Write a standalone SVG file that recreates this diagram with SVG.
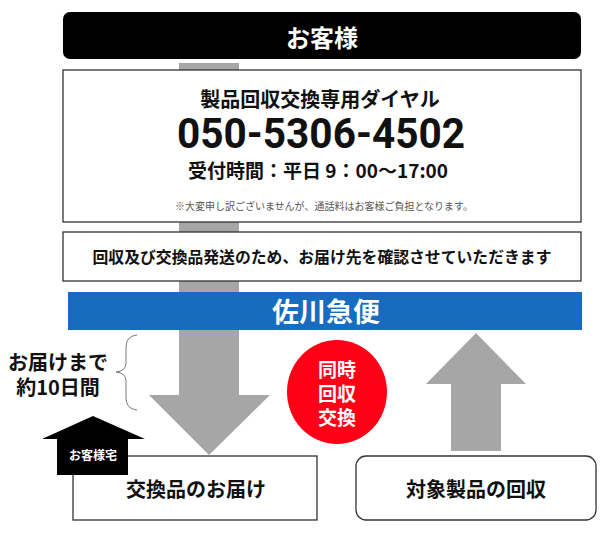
<svg xmlns="http://www.w3.org/2000/svg" width="615" height="534" viewBox="0 0 615 534">
<style>
text{font-family:"Noto Sans CJK JP","Liberation Sans",sans-serif;font-weight:bold;text-anchor:middle;fill:#111}
.c{dominant-baseline:central}
.w{fill:#fff}
.box{fill:#fff;stroke:#333;stroke-width:1.3}
.arrow{fill:#a6a6a6}
</style>
<rect width="615" height="534" fill="#fff"/>
<g id="connectors">
<polygon class="arrow" points="179,63 239,63 239,395 270,395 209,455 149,395 179,395"/>
<polygon class="arrow" points="476,333 526,384 501,384 501,451 451,451 451,384 426,384"/>
<path d="M137,335 Q126,336 126,347 L126,363 Q126,371 116,372 Q126,373 126,381 L126,398 Q126,409 137,410" fill="none" stroke="#777" stroke-width="1"/>
</g>
<g id="customer">
<rect x="63" y="12" width="518" height="47" rx="7" fill="#000"/>
<text class="c w" x="322" y="36" font-size="24">お客様</text>
</g>
<g id="dial">
<rect class="box" x="63" y="70" width="518" height="152"/>
<text class="c" x="320" y="98" font-size="20">製品回収交換専用ダイヤル</text>
<text x="321" y="148" font-size="42" textLength="288" lengthAdjust="spacingAndGlyphs" style="font-family:Roboto,'Liberation Sans',sans-serif">050-5306-4502</text>
<text class="c" x="318" y="169" font-size="19">受付時間：平日 9：00〜17:00</text>
<text class="c" x="324" y="205" font-size="10" style="font-weight:normal;fill:#555">※大変申し訳ございませんが、通話料はお客様ご負担となります。</text>
</g>
<g id="confirm">
<rect class="box" x="63" y="232" width="518" height="49"/>
<text class="c" x="322" y="256" font-size="16" textLength="459" lengthAdjust="spacingAndGlyphs">回収及び交換品発送のため、お届け先を確認させていただきます</text>
</g>
<g id="sagawa">
<rect x="68" y="292" width="514" height="38" fill="#176cbf"/>
<text class="c w" x="326" y="310" font-size="27">佐川急便</text>
</g>
<g id="duration">
<text class="c" x="58" y="361" font-size="20">お届けまで</text>
<text class="c" x="58" y="386" font-size="20">約10日間</text>
</g>
<g id="simultaneous">
<ellipse cx="337" cy="392" rx="50" ry="52" fill="#ff0016"/>
<text class="c w" x="337" y="368" font-size="19">同時</text>
<text class="c w" x="337" y="392" font-size="19">回収</text>
<text class="c w" x="337" y="416" font-size="19">交換</text>
</g>
<g id="delivery">
<rect class="box" x="73" y="456" width="244" height="64"/>
<text class="c" x="196" y="488" font-size="20">交換品のお届け</text>
</g>
<g id="home">
<polygon points="93,416 145,439 128,439 128,475 57,475 57,439 42,439" fill="#000"/>
<text class="c w" x="93" y="454" font-size="12">お客様宅</text>
</g>
<g id="collection">
<rect class="box" x="356" y="456" width="240" height="64" rx="10"/>
<text class="c" x="476" y="488" font-size="20">対象製品の回収</text>
</g>
</svg>
